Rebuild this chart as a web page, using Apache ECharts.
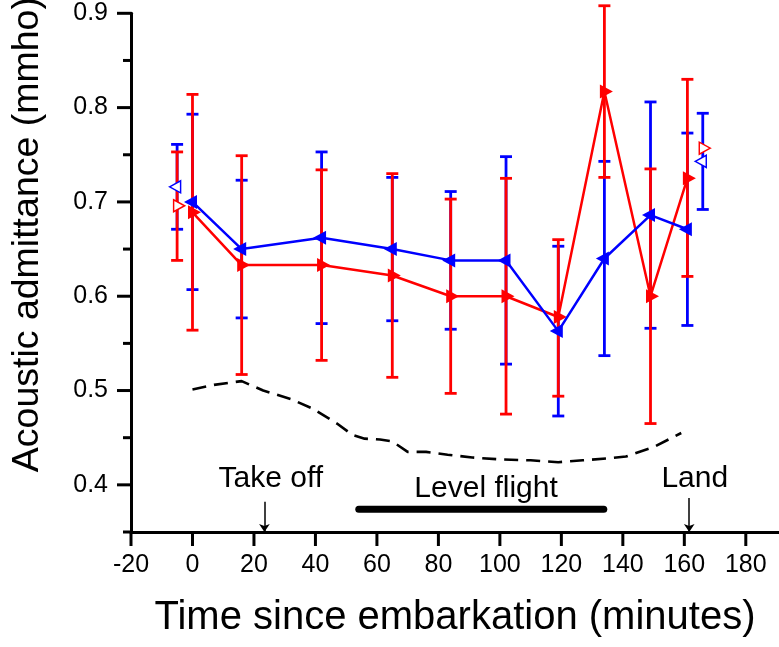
<!DOCTYPE html>
<html><head><meta charset="utf-8">
<script src="https://cdn.jsdelivr.net/npm/echarts@6/dist/echarts.min.js"></script>
<style>html,body{margin:0;padding:0;background:#fff}#c{width:779px;height:647px}</style>
</head><body><div id="c"></div>
<script>
// ---- data ----
const times     = [0, 16, 42, 65, 84, 102, 119, 134, 149, 161];
const redMean   = [0.689, 0.633, 0.633, 0.622, 0.600, 0.600, 0.578, 0.817, 0.600, 0.725];
const redHigh   = [0.814, 0.749, 0.734, 0.730, 0.703, 0.725, 0.660, 0.908, 0.735, 0.830];
const redLow    = [0.564, 0.517, 0.532, 0.514, 0.497, 0.475, 0.494, 0.726, 0.465, 0.621];
const blueMean  = [0.700, 0.650, 0.662, 0.650, 0.638, 0.638, 0.563, 0.640, 0.686, 0.671];
const blueHigh  = [0.793, 0.723, 0.753, 0.726, 0.711, 0.748, 0.653, 0.743, 0.806, 0.773];
const blueLow   = [0.607, 0.577, 0.571, 0.574, 0.565, 0.528, 0.473, 0.537, 0.566, 0.569];
// ground measurements (open markers)
const openTimes    = [-5, 166];
const openRedMean  = [0.696, 0.757];
const openRedHigh  = [0.753, null];
const openRedLow   = [0.638, null];
const openBlueMean = [0.716, 0.743];
const openBlueHigh = [0.761, 0.794];
const openBlueLow  = [0.671, 0.692];
// dashed curve
const dashX = [0, 7, 16, 23, 32, 39, 47, 52, 56, 61, 65, 70, 76, 83, 91, 100, 110, 119, 127, 135, 141, 150, 159];
const dashY = [0.501, 0.506, 0.510, 0.500, 0.491, 0.481, 0.465, 0.453, 0.449, 0.448, 0.446, 0.435, 0.435, 0.432, 0.429, 0.427, 0.426, 0.424, 0.426, 0.428, 0.430, 0.440, 0.455];
// axis ticks
const xMin = -20, xMax = 190.8, xStep = 20;
const yMin = 0.35, yMax = 0.9, yStep = 0.05;
const xTicks = [-20, 0, 20, 40, 60, 80, 100, 120, 140, 160, 180];
const yMajorTicks = [0.4, 0.5, 0.6, 0.7, 0.8, 0.9];
const yMinorTicks = [0.35, 0.45, 0.55, 0.65, 0.75, 0.85];
// annotations
const annoText = ['Take off', 'Level flight', 'Land'];
const annoX    = [25.5, 95.5, 163.4];
const annoY    = [0.406, 0.3955, 0.407];
const arrowX   = [23.4, 161.6];
const arrowTop = [0.382, 0.386];
const levelFlight = [54.1, 133.8];
const levelY = 0.374;

const RED = '#ff0000', BLUE = '#0000ff';
const FONT = 'Liberation Sans, Arial, sans-serif';

function errData(xs, lo, hi) {
  const out = [];
  xs.forEach((x, i) => { if (lo[i] != null) out.push([x, lo[i], hi[i]]); });
  return out;
}
function errRender(color) {
  return function (params, api) {
    const x = api.value(0), lo = api.value(1), hi = api.value(2);
    const a = api.coord([x, lo]), b = api.coord([x, hi]);
    const hw = 6;
    const st = { stroke: color, lineWidth: 2.8, fill: null };
    return { type: 'group', children: [
      { type: 'line', shape: { x1: a[0], y1: a[1], x2: b[0], y2: b[1] }, style: st },
      { type: 'line', shape: { x1: b[0] - hw, y1: b[1], x2: b[0] + hw, y2: b[1] }, style: st },
      { type: 'line', shape: { x1: a[0] - hw, y1: a[1], x2: a[0] + hw, y2: a[1] }, style: st }
    ]};
  };
}
const zip = (xs, ys) => xs.map((x, i) => [x, ys[i]]);
const labelStyle = { fontSize: 25, fontFamily: FONT, color: '#000' };

const chart = echarts.init(document.getElementById('c'), null, { renderer: 'canvas' });
chart.setOption({
  animation: false,
  backgroundColor: '#fff',
  grid: { left: 131, right: 0, top: 13.3, bottom: 115, containLabel: false, outerBoundsMode: 'none' },
  xAxis: {
    type: 'value', min: xMin, max: xMax, interval: xStep,
    name: 'Time since embarkation (minutes)', nameLocation: 'middle', nameGap: 66,
    nameTextStyle: { fontSize: 40, fontFamily: FONT, color: '#000' },
    axisLine: { show: true, onZero: false, lineStyle: { color: '#000', width: 3 } },
    axisTick: { show: false },
    axisLabel: Object.assign({ margin: 21, showMaxLabel: false,
      formatter: v => (Math.abs(v / xStep - Math.round(v / xStep)) < 1e-6 ? String(v) : '') }, labelStyle),
    splitLine: { show: false }
  },
  yAxis: {
    type: 'value', min: yMin, max: yMax, interval: yStep,
    name: 'Acoustic admittance (mmho)', nameLocation: 'middle', nameGap: 84,
    nameTextStyle: { fontSize: 37.5, fontFamily: FONT, color: '#000', padding: [0, 0, 0, 76] },
    axisLine: { show: true, onZero: false, lineStyle: { color: '#000', width: 3 } },
    axisTick: { show: false },
    axisLabel: Object.assign({ margin: 23, formatter: v => {
      const r = Math.round(v * 10);
      return (Math.abs(v * 10 - r) < 1e-6 && r >= 4) ? (r / 10).toFixed(1) : '';
    } }, labelStyle),
    splitLine: { show: false }
  },
  series: [
    { type: 'line', data: zip(dashX, dashY), symbol: 'none', silent: true,
      lineStyle: { color: '#000', width: 2.6, type: [14, 8] }, z: 1 },
    { type: 'line', data: zip(levelFlight, [levelY, levelY]), symbol: 'none', silent: true,
      lineStyle: { color: '#000', width: 7, cap: 'round' }, z: 1 },
    { type: 'scatter', silent: true, symbolSize: 0, itemStyle: { opacity: 1 },
      data: annoText.map((t, i) => ({ name: t, value: [annoX[i], annoY[i]] })),
      label: { show: true, position: 'inside', formatter: p => p.name, fontSize: 30, fontFamily: FONT, color: '#000', opacity: 1 },
      markLine: { silent: true, symbol: ['none', 'arrow'], symbolSize: 8, label: { show: false },
        lineStyle: { color: '#000', width: 1.5, type: 'solid', opacity: 1 },
        data: arrowX.map((x, i) => [{ coord: [x, arrowTop[i]] }, { coord: [x, yMin] }]) },
      z: 1 },
    { type: 'custom', renderItem: errRender(BLUE), data: errData(times, blueLow, blueHigh), encode: { x: 0, y: [1, 2] }, silent: true, z: 2 },
    { type: 'custom', renderItem: errRender(RED), data: errData(times, redLow, redHigh), encode: { x: 0, y: [1, 2] }, silent: true, z: 2 },
    { type: 'custom', renderItem: errRender(BLUE), data: errData(openTimes, openBlueLow, openBlueHigh), encode: { x: 0, y: [1, 2] }, silent: true, z: 2 },
    { type: 'custom', renderItem: errRender(RED), data: errData(openTimes, openRedLow, openRedHigh), encode: { x: 0, y: [1, 2] }, silent: true, z: 2 },
    { type: 'line', data: zip(times, redMean), symbol: 'triangle', symbolSize: [14, 13], symbolRotate: -90, symbolOffset: [2, 0],
      lineStyle: { color: RED, width: 2.5 }, itemStyle: { color: RED }, silent: true, z: 3 },
    { type: 'line', data: zip(times, blueMean), symbol: 'triangle', symbolSize: [14, 13], symbolRotate: 90, symbolOffset: [-2, 0],
      lineStyle: { color: BLUE, width: 2.5 }, itemStyle: { color: BLUE }, silent: true, z: 4 },
    { type: 'scatter', data: zip(openTimes, openRedMean), symbol: 'triangle', symbolSize: [12, 11], symbolRotate: -90, symbolOffset: [2, 0],
      itemStyle: { color: '#fff', borderColor: RED, borderWidth: 1.5, opacity: 1 }, silent: true, z: 5 },
    { type: 'scatter', data: zip(openTimes, openBlueMean), symbol: 'triangle', symbolSize: [12, 11], symbolRotate: 90, symbolOffset: [-2, 0],
      itemStyle: { color: '#fff', borderColor: BLUE, borderWidth: 1.5, opacity: 1 }, silent: true, z: 5 }
  ]
});

// axis ticks, placed through the chart's own scales
const tickStyle = { stroke: '#000', lineWidth: 3 };
const ticks = [];
xTicks.forEach(v => {
  const p = chart.convertToPixel({ gridIndex: 0 }, [v, yMin]);
  ticks.push({ type: 'line', silent: true, z: 100, shape: { x1: p[0], y1: p[1], x2: p[0], y2: p[1] + 14 }, style: tickStyle });
});
yMajorTicks.forEach(v => {
  const p = chart.convertToPixel({ gridIndex: 0 }, [xMin, v]);
  ticks.push({ type: 'line', silent: true, z: 100, shape: { x1: p[0] - 14, y1: p[1], x2: p[0], y2: p[1] }, style: tickStyle });
});
yMinorTicks.forEach(v => {
  const p = chart.convertToPixel({ gridIndex: 0 }, [xMin, v]);
  ticks.push({ type: 'line', silent: true, z: 100, shape: { x1: p[0] - 8, y1: p[1], x2: p[0], y2: p[1] }, style: tickStyle });
});
chart.setOption({ graphic: { elements: ticks } });
</script></body></html>
